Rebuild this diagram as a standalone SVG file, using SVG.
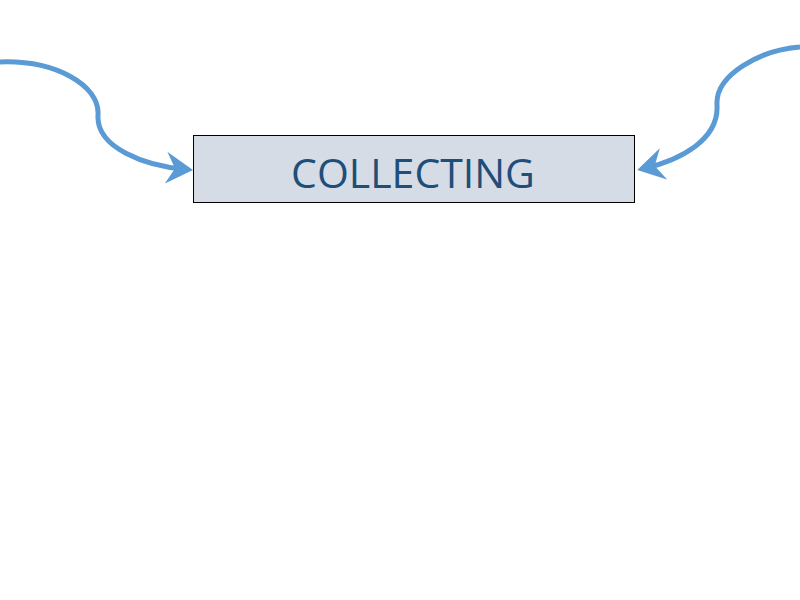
<svg xmlns="http://www.w3.org/2000/svg" width="800" height="600" viewBox="0 0 800 600">
  <style>
    .conn { fill: none; stroke: #5B9BD5; stroke-width: 5; stroke-linecap: butt; }
    .node-box { fill: #D6DCE5; stroke: #000000; stroke-width: 1; }
    .node-label { font-family: "Open Sans", "Noto Sans", sans-serif; font-size: 41px; fill: #1F4E79; text-anchor: middle; }
  </style>
  <defs>
    <marker id="arrow" markerUnits="userSpaceOnUse" viewBox="0 0 27 32" refX="20" refY="16" markerWidth="27" markerHeight="32" orient="auto">
      <path d="M0,0 L27,16 L0,32 L9,16 z" fill="#5B9BD5"/>
    </marker>
  </defs>
  <rect width="800" height="600" fill="#FFFFFF"/>
  <g id="connectors">
    <path class="conn" d="M0,62 C55,60 100,85 98,115 C96,148 145,166 186,169.5" marker-end="url(#arrow)"/>
    <path class="conn" d="M800,47 C760,50 715,75 717,105 C719,140 680,160 644,168.5" marker-end="url(#arrow)"/>
  </g>
  <g id="collecting">
    <rect class="node-box" x="193.5" y="135.5" width="441" height="67"/>
    <text class="node-label" x="413" y="187.5">COLLECTING</text>
  </g>
</svg>
